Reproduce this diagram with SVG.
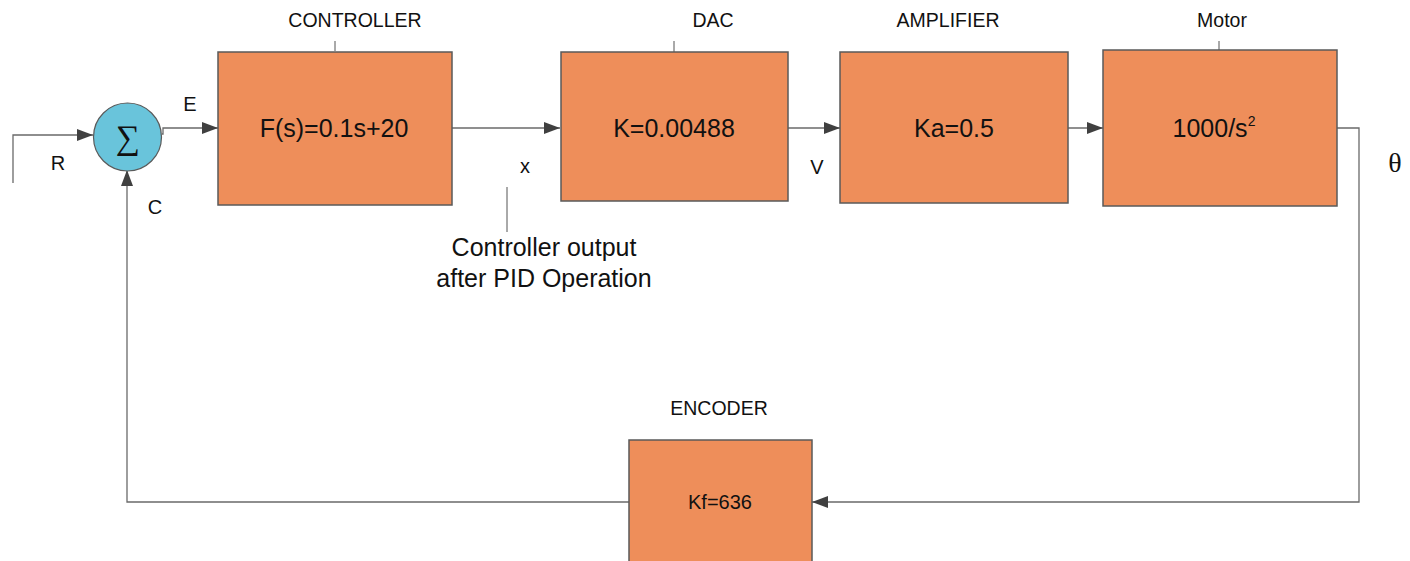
<svg xmlns="http://www.w3.org/2000/svg" width="1410" height="561" viewBox="0 0 1410 561">
  <defs>
    <marker id="arrow" viewBox="0 0 16 12" refX="16" refY="6" markerWidth="16" markerHeight="12" markerUnits="userSpaceOnUse" orient="auto">
      <path d="M0,0 L16,6 L0,12 Z" fill="#404040"/>
    </marker>
    <style>
      .block { fill: #EE8E5A; stroke: #5a5a5a; stroke-width: 1.5; }
      .sum { fill: #69C4DB; stroke: #5a5a5a; stroke-width: 1.2; }
      .wire { fill: none; stroke: #6a6a6a; stroke-width: 1.3; }
      .tick { fill: none; stroke: #555; stroke-width: 1; }
      .title { font-family: "Liberation Sans", Arial, sans-serif; font-size: 19.5px; fill: #111; text-anchor: middle; }
      .fn { font-family: "Liberation Sans", Arial, sans-serif; font-size: 25px; fill: #111; text-anchor: middle; }
      .sig { font-family: "Liberation Sans", Arial, sans-serif; font-size: 20px; fill: #111; text-anchor: middle; }
      .note { font-family: "Liberation Sans", Arial, sans-serif; font-size: 25px; fill: #111; text-anchor: middle; }
      .greek { font-family: "Liberation Serif", "Times New Roman", serif; fill: #111; text-anchor: middle; }
    </style>
  </defs>
  <rect width="1410" height="561" fill="#ffffff"/>

  <!-- connectors -->
  <g id="connectors">
    <polyline class="wire" points="13,183 13,135 93,135" marker-end="url(#arrow)"/>
    <polyline class="wire" points="162,134 163,134 163,128 218,128" marker-end="url(#arrow)"/>
    <polyline class="wire" points="452,128 560,128" marker-end="url(#arrow)"/>
    <polyline class="wire" points="788,128 840,128" marker-end="url(#arrow)"/>
    <polyline class="wire" points="1068,128 1103,128" marker-end="url(#arrow)"/>
    <polyline class="wire" points="1337,128 1359,128 1359,502 812,502" marker-end="url(#arrow)"/>
    <polyline class="wire" points="629,502 127,502 127,170" marker-end="url(#arrow)"/>
    <!-- label leader ticks -->
    <line class="tick" x1="335" y1="41" x2="335" y2="51"/>
    <line class="tick" x1="674" y1="41" x2="674" y2="52"/>
    <line class="tick" x1="1219" y1="41" x2="1219" y2="50"/>
    <line class="tick" x1="507" y1="187" x2="507" y2="232"/>
  </g>

  <!-- summing junction -->
  <g id="sum">
    <circle class="sum" cx="127.5" cy="137" r="34"/>
    <text class="greek" x="127.5" y="149" font-size="34">∑</text>
  </g>

  <g id="controller">
    <rect class="block" x="218" y="52" width="234" height="153"/>
    <text class="title" x="355" y="27">CONTROLLER</text>
    <text class="fn" x="334" y="137">F(s)=0.1s+20</text>
  </g>

  <g id="dac">
    <rect class="block" x="561" y="52" width="227" height="149"/>
    <text class="title" x="713" y="27">DAC</text>
    <text class="fn" x="674" y="137">K=0.00488</text>
  </g>

  <g id="amplifier">
    <rect class="block" x="840" y="52" width="228" height="151"/>
    <text class="title" x="948" y="27">AMPLIFIER</text>
    <text class="fn" x="954" y="137">Ka=0.5</text>
  </g>

  <g id="motor">
    <rect class="block" x="1103" y="50" width="234" height="156"/>
    <text class="title" x="1222" y="27">Motor</text>
    <text class="fn" x="1214" y="137">1000/s<tspan font-size="14" dy="-11">2</tspan></text>
  </g>

  <g id="encoder">
    <rect class="block" x="629" y="440" width="183" height="130"/>
    <text class="title" x="719" y="415">ENCODER</text>
    <text class="sig" x="720" y="509">Kf=636</text>
  </g>

  <!-- signal labels -->
  <g id="labels">
    <text class="sig" x="190" y="111">E</text>
    <text class="sig" x="58" y="170">R</text>
    <text class="sig" x="155" y="214">C</text>
    <text class="sig" x="525" y="173">x</text>
    <text class="sig" x="817" y="174">V</text>
    <text class="greek" x="1395" y="172" font-size="28">θ</text>
    <text class="note" x="544" y="256">Controller output</text>
    <text class="note" x="544" y="287">after PID Operation</text>
  </g>
</svg>
